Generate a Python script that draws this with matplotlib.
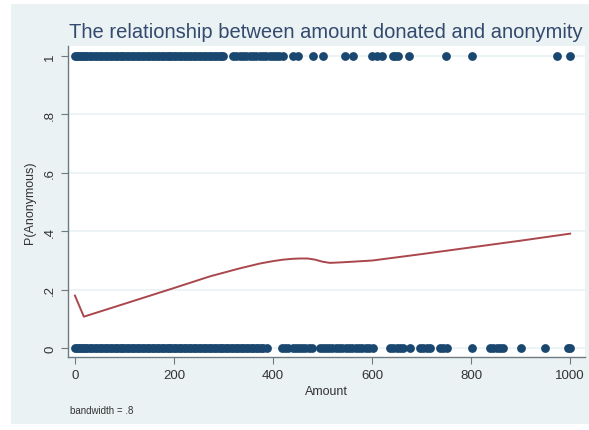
import numpy as np
import matplotlib.pyplot as plt
from matplotlib.patches import Rectangle

plt.rcParams['font.family'] = ['Liberation Sans', 'DejaVu Sans']

# donation amounts where the donor chose anonymity (y = 1)
anon_yes = [0, 4, 8, 12, 16, 20, 25, 30, 35, 40, 45, 50, 55, 60, 65, 70, 75, 80, 85, 90,
            95, 100, 105, 110, 115, 120, 125, 130, 135, 140, 145, 150, 155, 160, 165, 170,
            175, 180, 185, 190, 195, 200, 205, 210, 215, 220, 225, 230, 235, 240, 245, 250,
            255, 260, 265, 270, 275, 280, 285, 290, 295, 300,
            320, 326, 333, 340, 346, 353, 360, 366, 373, 380, 386, 393, 400, 406, 413, 420,
            440, 450, 480, 500, 545, 562, 600, 610, 620, 642, 647, 652, 675, 750, 802, 973, 1000]
# donation amounts where the donor was named (y = 0)
anon_no = [0, 4, 8, 12, 16, 20, 25, 30, 35, 40, 45, 50, 55, 60, 65, 70, 75, 80, 85, 90,
           95, 100, 105, 110, 115, 120, 125, 130, 135, 140, 145, 150, 155, 160, 165, 170,
           175, 180, 185, 190, 195, 200, 205, 210, 215, 220, 225, 230, 235, 240, 245, 250,
           255, 260, 265, 270, 275, 280, 285, 290, 295, 300, 305, 310, 315, 320, 325, 330,
           335, 340, 345, 350, 355, 360, 365, 370, 375, 380, 388,
           418, 424, 430, 440, 446, 452, 458, 465, 472, 478,
           495, 501, 507, 514, 520, 527, 534, 540, 547, 554, 560, 567, 574, 580, 587, 594, 602,
           636, 642, 650, 657, 663, 677, 697, 703, 710, 717, 737, 744, 751,
           802, 838, 845, 852, 858, 865, 900, 950, 996, 1000]

# lowess smooth (bandwidth .8)
lo_x = [0, 18, 100, 200, 273, 330, 374, 400, 420, 440, 455, 470, 485, 500, 515, 540, 560,
        600, 700, 800, 900, 1000]
lo_y = [0.18, 0.108, 0.152, 0.206, 0.246, 0.272, 0.290, 0.298, 0.303, 0.306, 0.307, 0.307,
        0.303, 0.296, 0.292, 0.294, 0.296, 0.300, 0.322, 0.345, 0.368, 0.392]

navy = '#1a476f'
bg = '#eaf2f3'

fig = plt.figure(figsize=(5.89, 4.31), dpi=100)
fig.patch.set_facecolor('white')
fig.patches.append(Rectangle((11/589, 1-425/431), 1-11/589, 420/431,
                             transform=fig.transFigure, facecolor=bg, edgecolor='none', zorder=-1))

ax = fig.add_axes([68/589, 1-358/431, (585-68)/589, (358-47)/431])
ax.set_facecolor('white')

ax.scatter(anon_yes, np.ones(len(anon_yes)), s=40, color=navy, zorder=3, linewidths=0)
ax.scatter(anon_no, np.zeros(len(anon_no)), s=40, color=navy, zorder=3, linewidths=0)
ax.plot(lo_x, lo_y, color='#a9474d', lw=1.4, zorder=4)

ax.set_xlim(-14, 1030)
ax.set_ylim(-0.03, 1.034)
ax.set_xticks([0, 200, 400, 600, 800, 1000])
ax.set_yticks([0, 0.2, 0.4, 0.6, 0.8, 1])
ax.set_yticklabels(['0', '.2', '.4', '.6', '.8', '1'], rotation=90, va='center')
ax.grid(axis='y', color=bg, lw=1.2)
ax.set_axisbelow(True)

for s in ['top', 'right']:
    ax.spines[s].set_visible(False)
for s in ['left', 'bottom']:
    ax.spines[s].set_color('#6e7a80')
    ax.spines[s].set_linewidth(1.0)
ax.tick_params(colors='#6e7a80', labelcolor='#333333', labelsize=9.5, length=5, width=0.8)

ax.set_xlabel('Amount', fontsize=9, color='#333333', labelpad=3)
ax.set_ylabel('P(Anonymous)', fontsize=9, color='#333333', labelpad=6)
fig.text(326/589, 1-33/431, 'The relationship between amount donated and anonymity',
         ha='center', va='center', fontsize=14.5, color='#33496e')
fig.text(70/589, 1-411/431, 'bandwidth = .8', ha='left', va='center', fontsize=7, color='#333333')

fig.savefig('out.png', dpi=100)
